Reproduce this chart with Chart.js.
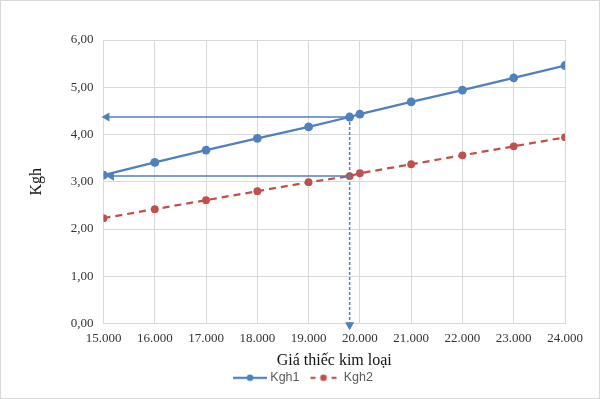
<!DOCTYPE html>
<html>
<head>
<meta charset="utf-8">
<script src="https://cdn.jsdelivr.net/npm/chart.js@4.4.1/dist/chart.umd.min.js"></script>
<style>
    html, body { margin: 0; padding: 0; background: #fff; }
    #wrap { width: 600px; height: 399px; box-sizing: border-box; border: 1px solid #d9d9d9; }
    canvas { display: block; }
</style>
</head>
<body>
<div id="wrap"><canvas id="chart" width="598" height="397"></canvas></div>
<script>
// Values
const priceValues = [15000, 16000, 17000, 18000, 19000, 19800, 20000, 21000, 22000, 23000, 24000];
const kgh1Values = [3.14, 3.41, 3.67, 3.92, 4.16, 4.37, 4.43, 4.69, 4.94, 5.20, 5.46];
const kgh2Values = [2.23, 2.42, 2.61, 2.80, 2.99, 3.12, 3.18, 3.37, 3.56, 3.75, 3.94];
const seriesNames = ['Kgh1', 'Kgh2'];
const seriesColors = ['#4f81bd', '#c0504d'];

// Guide arrows (start at the 19.800 point, heads near the axes)
const guidePrice = 19800;
const guideLevels = [4.37, 3.12];
const guideHeadPrices = [15064, 15152];
const guideDropHead = -0.03;

const xTitle = 'Giá thiếc kim loại';
const yTitle = 'Kgh';

const serif = 'Liberation Serif, Times New Roman, serif';
const sans = 'Liberation Sans, Arial, sans-serif';
const guideColor = '#4f81bd';

// small line+marker icons for the legend
function legendIcon(color, dashed) {
    const c = document.createElement('canvas');
    c.width = 34;
    c.height = 10;
    const g = c.getContext('2d');
    g.strokeStyle = color;
    g.fillStyle = color;
    g.lineWidth = 2.25;
    g.beginPath();
    if (dashed) {
        g.moveTo(4, 5); g.lineTo(9, 5);
        g.moveTo(25, 5); g.lineTo(30, 5);
    } else {
        g.moveTo(0, 5); g.lineTo(34, 5);
    }
    g.stroke();
    g.beginPath();
    g.arc(17, 5, 3.3, 0, Math.PI * 2);
    g.fill();
    return c;
}
const legendIcons = [legendIcon(seriesColors[0], false), legendIcon(seriesColors[1], true)];

const toPoints = ys => priceValues.map((x, i) => ({ x: x, y: ys[i] }));

function guideArrow(points, rotation, dash) {
    return {
        data: points,
        borderColor: guideColor,
        backgroundColor: guideColor,
        borderWidth: 1.5,
        borderDash: dash,
        pointStyle: 'triangle',
        pointRadius: [0, 5.3],
        pointRotation: rotation,
        pointBorderWidth: 0,
        pointBackgroundColor: guideColor,
        clip: false,
        order: 0
    };
}

new Chart(document.getElementById('chart'), {
    type: 'line',
    data: {
        datasets: [
            {
                label: seriesNames[0],
                data: toPoints(kgh1Values),
                borderColor: seriesColors[0],
                backgroundColor: seriesColors[0],
                borderWidth: 2.25,
                pointRadius: 4.4,
                pointBorderWidth: 0,
                order: 1
            },
            {
                label: seriesNames[1],
                data: toPoints(kgh2Values),
                borderColor: seriesColors[1],
                backgroundColor: seriesColors[1],
                borderWidth: 2.25,
                borderDash: [7, 5],
                pointRadius: 3.9,
                pointBorderWidth: 0,
                order: 1
            },
            guideArrow([{ x: guidePrice, y: guideLevels[0] }, { x: guideHeadPrices[0], y: guideLevels[0] }], -90, []),
            guideArrow([{ x: guidePrice, y: guideLevels[1] }, { x: guideHeadPrices[1], y: guideLevels[1] }], -90, []),
            guideArrow([{ x: guidePrice, y: guideLevels[0] }, { x: guidePrice, y: guideDropHead }], 180, [3, 2])
        ]
    },
    options: {
        responsive: false,
        animation: false,
        layout: { padding: { left: 9, top: 39, right: 0, bottom: 4 } },
        plugins: {
            tooltip: { enabled: false },
            legend: {
                position: 'bottom',
                labels: {
                    usePointStyle: true,
                    pointStyleWidth: 28,
                    padding: 10,
                    color: '#595959',
                    font: { family: sans, size: 12.5 },
                    generateLabels: () => seriesNames.map((name, i) => ({
                        text: name,
                        pointStyle: legendIcons[i],
                        fontColor: '#595959',
                        datasetIndex: i,
                        hidden: false,
                        lineWidth: 0
                    }))
                }
            }
        },
        scales: {
            x: {
                type: 'linear',
                min: 15000,
                max: 24000,
                afterFit: scale => { scale.height = 38; },
                ticks: {
                    stepSize: 1000,
                    padding: 7,
                    color: '#333333',
                    font: { family: serif, size: 13 },
                    callback: v => v.toLocaleString('de-DE')
                },
                grid: { color: '#d9d9d9', drawTicks: false },
                border: { color: '#d9d9d9' },
                title: {
                    display: true,
                    text: xTitle,
                    color: '#111111',
                    font: { family: serif, size: 16 },
                    padding: { top: 0, bottom: -9 }
                }
            },
            y: {
                min: 0,
                max: 6,
                afterFit: scale => { scale.width = 93.5; },
                ticks: {
                    stepSize: 1,
                    padding: 10,
                    color: '#333333',
                    font: { family: serif, size: 13 },
                    callback: v => v.toFixed(2).replace('.', ',')
                },
                grid: { color: '#d9d9d9', drawTicks: false },
                border: { display: false },
                title: {
                    display: true,
                    text: yTitle,
                    color: '#111111',
                    font: { family: serif, size: 16 },
                    padding: { top: 17, bottom: 0 }
                }
            },
            yRight: {
                position: 'right',
                afterFit: scale => { scale.width = 34; },
                ticks: { display: false },
                grid: { display: false },
                border: { display: false }
            }
        }
    }
});
</script>
</body>
</html>
